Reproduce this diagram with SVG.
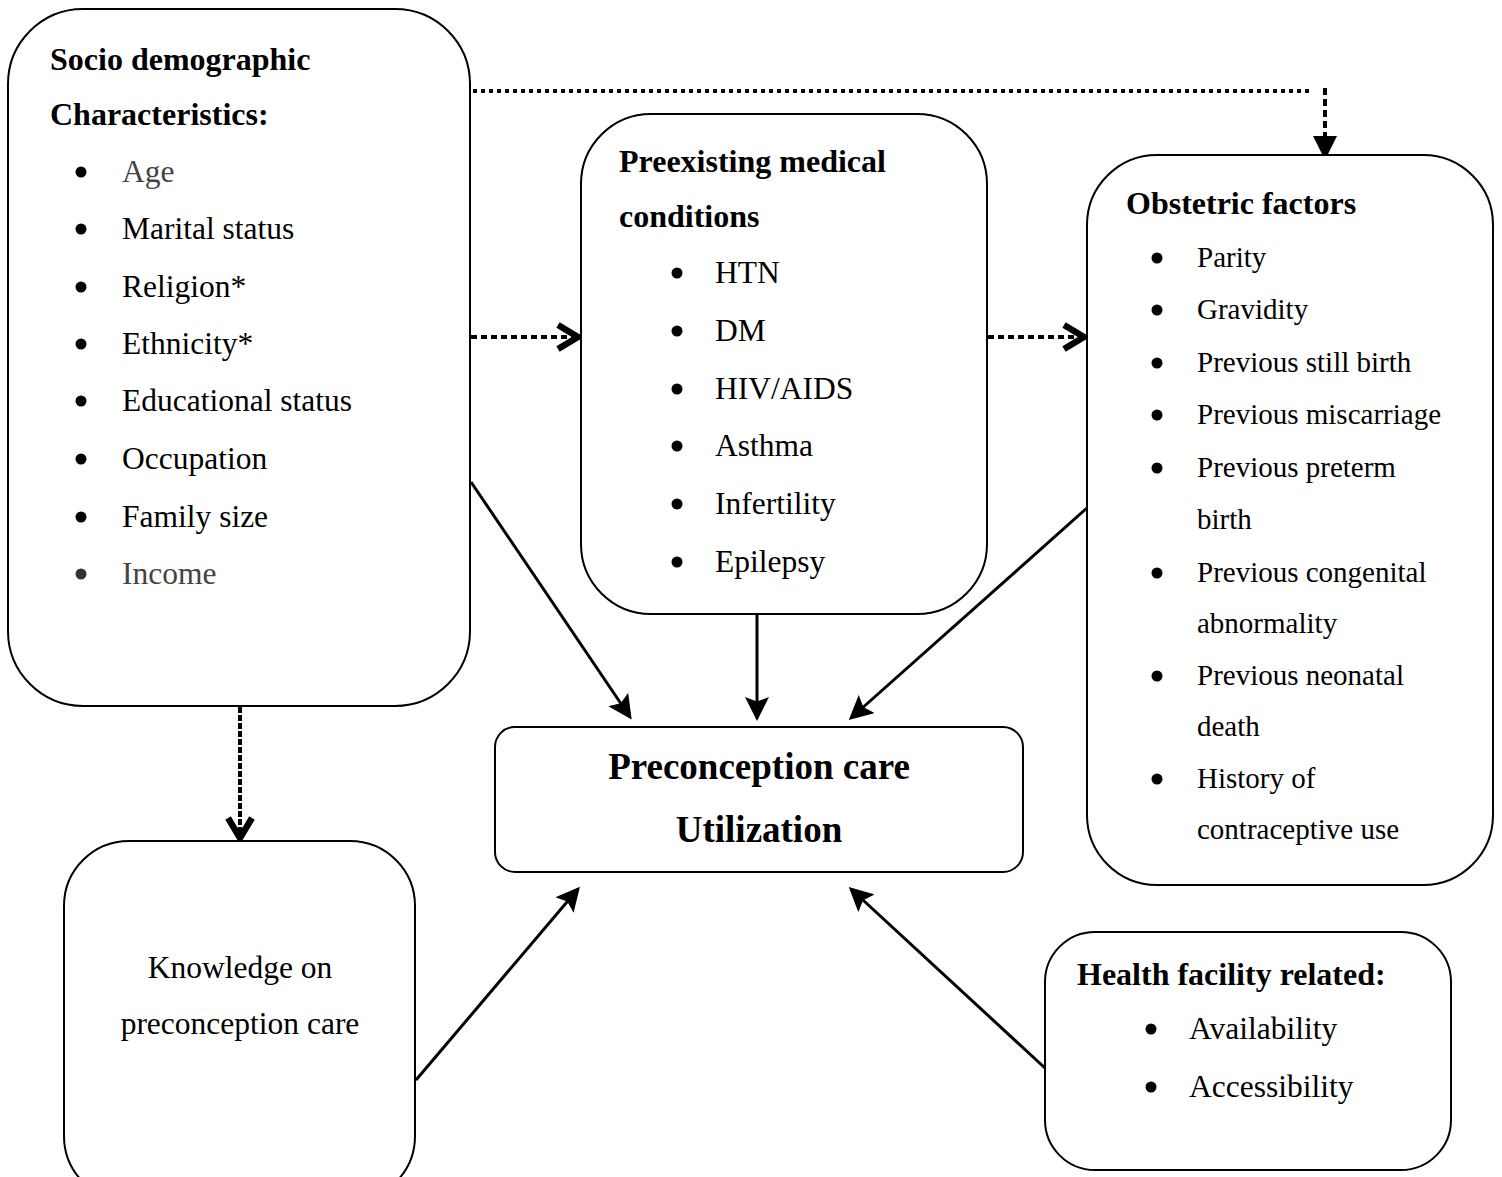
<svg xmlns="http://www.w3.org/2000/svg" width="1502" height="1177" viewBox="0 0 1502 1177">
<style>
.box{fill:#fff;stroke:#000;stroke-width:2}
text{font-family:"Liberation Serif","Times New Roman",serif;font-size:31.5px;fill:#000}
.b{font-weight:bold;font-size:32px}
.g{fill:#444}
.sm{font-size:29px}
.big{font-size:37px;font-weight:bold}
.solid{stroke:#000;stroke-width:3;fill:none}
.dot{stroke:#000;stroke-width:4;fill:none}
</style>
<defs>
<marker id="ah" markerWidth="8" markerHeight="8" refX="7" refY="4" orient="auto" markerUnits="strokeWidth"><path d="M0,0 L8,4 L0,8 L1.5,4 Z" fill="#000"/></marker>
<marker id="ah2" markerWidth="6" markerHeight="6" refX="5" refY="3" orient="auto" markerUnits="strokeWidth"><path d="M0,0 L6,3 L0,6 Z" fill="#000"/></marker>
<marker id="chev" markerWidth="8" markerHeight="8" refX="6" refY="4" orient="auto" markerUnits="strokeWidth"><path d="M1,1 L6,4 L1,7" fill="none" stroke="#000" stroke-width="1.6"/></marker>
</defs>

<g id="connectors">
<path class="dot" d="M473,91 H1310" stroke-dasharray="4 4"/>
<path class="dot" d="M1325,88 V156" stroke-dasharray="7 4" marker-end="url(#ah2)"/>
<path class="dot" d="M471,337 H578" stroke-dasharray="6 4" marker-end="url(#chev)"/>
<path class="dot" d="M988,337 H1084" stroke-dasharray="6 4" marker-end="url(#chev)"/>
<path class="dot" d="M240,707 V838" stroke-dasharray="6 2" marker-end="url(#chev)"/>
<path class="solid" d="M471,482 L630,717" marker-end="url(#ah)"/>
<path class="solid" d="M757,615 V718" marker-end="url(#ah)"/>
<path class="solid" d="M1087,508 L851,718" marker-end="url(#ah)"/>
<path class="solid" d="M416,1080 L578,889" marker-end="url(#ah)"/>
<path class="solid" d="M1045,1068 L851,889" marker-end="url(#ah)"/>
</g>

<g id="socio">
<rect class="box" x="8" y="9" width="462" height="697" rx="75"/>
<text class="b" x="50" y="70">Socio demographic</text>
<text class="b" x="50" y="125">Characteristics:</text>
<g>
<circle cx="81" cy="172" r="5.5"/><text class="g" x="122" y="182">Age</text>
<circle cx="81" cy="229" r="5.5"/><text x="122" y="239">Marital status</text>
<circle cx="81" cy="287" r="5.5"/><text x="122" y="297">Religion*</text>
<circle cx="81" cy="344" r="5.5"/><text x="122" y="354">Ethnicity*</text>
<circle cx="81" cy="401" r="5.5"/><text x="122" y="411">Educational status</text>
<circle cx="81" cy="459" r="5.5"/><text x="122" y="469">Occupation</text>
<circle cx="81" cy="517" r="5.5"/><text x="122" y="527">Family size</text>
<circle cx="81" cy="574" r="5.5" fill="#333"/><text class="g" x="122" y="584">Income</text>
</g>
</g>

<g id="preexisting">
<rect class="box" x="581" y="114" width="406" height="500" rx="70"/>
<text class="b" x="619" y="172">Preexisting medical</text>
<text class="b" x="619" y="227">conditions</text>
<circle cx="677" cy="273" r="5.5"/><text x="715" y="283">HTN</text>
<circle cx="677" cy="331" r="5.5"/><text x="715" y="341">DM</text>
<circle cx="677" cy="389" r="5.5"/><text x="715" y="399">HIV/AIDS</text>
<circle cx="677" cy="446" r="5.5"/><text x="715" y="456">Asthma</text>
<circle cx="677" cy="504" r="5.5"/><text x="715" y="514">Infertility</text>
<circle cx="677" cy="562" r="5.5"/><text x="715" y="572">Epilepsy</text>
</g>

<g id="obstetric">
<rect class="box" x="1087" y="155" width="406" height="730" rx="70"/>
<text class="b" x="1126" y="214">Obstetric factors</text>
<circle cx="1157" cy="258" r="5.5"/><text class="sm" x="1197" y="267">Parity</text>
<circle cx="1157" cy="310" r="5.5"/><text class="sm" x="1197" y="319">Gravidity</text>
<circle cx="1157" cy="363" r="5.5"/><text class="sm" x="1197" y="372">Previous still birth</text>
<circle cx="1157" cy="415" r="5.5"/><text class="sm" x="1197" y="424">Previous miscarriage</text>
<circle cx="1157" cy="468" r="5.5"/><text class="sm" x="1197" y="477">Previous preterm</text>
<text class="sm" x="1197" y="529">birth</text>
<circle cx="1157" cy="573" r="5.5"/><text class="sm" x="1197" y="582">Previous congenital</text>
<text class="sm" x="1197" y="633">abnormality</text>
<circle cx="1157" cy="676" r="5.5"/><text class="sm" x="1197" y="685">Previous neonatal</text>
<text class="sm" x="1197" y="736">death</text>
<circle cx="1157" cy="779" r="5.5"/><text class="sm" x="1197" y="788">History of</text>
<text class="sm" x="1197" y="839">contraceptive use</text>
</g>

<g id="preconception">
<rect class="box" x="495" y="727" width="528" height="145" rx="20"/>
<text class="big" x="759" y="779" text-anchor="middle">Preconception care</text>
<text class="big" x="759" y="842" text-anchor="middle">Utilization</text>
</g>

<g id="knowledge">
<rect class="box" x="64" y="841" width="351" height="360" rx="65"/>
<text x="240" y="978" text-anchor="middle">Knowledge on</text>
<text x="240" y="1034" text-anchor="middle">preconception care</text>
</g>

<g id="health">
<rect class="box" x="1045" y="932" width="406" height="238" rx="50"/>
<text class="b" x="1077" y="985">Health facility related:</text>
<circle cx="1151" cy="1029" r="5.5"/><text x="1189" y="1039">Availability</text>
<circle cx="1151" cy="1087" r="5.5"/><text x="1189" y="1097">Accessibility</text>
</g>
</svg>
